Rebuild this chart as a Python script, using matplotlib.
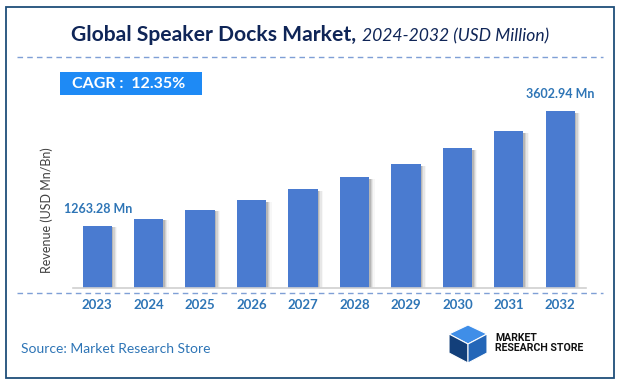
import matplotlib
matplotlib.use("Agg")
import matplotlib.pyplot as plt
from matplotlib.patches import Rectangle, Polygon

years = ["2023", "2024", "2025", "2026", "2027", "2028", "2029", "2030", "2031", "2032"]
revenue = [1263.28, 1402, 1585, 1780, 2003, 2256, 2520, 2845, 3196, 3602.94]
first_label = "1263.28 Mn"
last_label = "3602.94 Mn"
cagr_text = "CAGR :  12.35%"

W, H = 623, 389
BAR = "#4a7bd0"
LABEL = "#2e75b6"
FONT = ["Lato", "DejaVu Sans"]
plt.rcParams["font.family"] = FONT

fig = plt.figure(figsize=(W / 100, H / 100), dpi=100)


def fx(x):
    return x / W


def fy(y):
    return 1 - y / H


# ── frame, dashed rules, CAGR box ────────────────────────────────────────
fig.patches.append(Rectangle((fx(6), fy(378)), fx(614) - fx(6), fy(7) - fy(378),
                             transform=fig.transFigure, fill=False,
                             edgecolor="#1f4e79", linewidth=1.3))
for yy in (57, 293):
    fig.add_artist(plt.Line2D([fx(17), fx(603)], [fy(yy), fy(yy)],
                              transform=fig.transFigure, color="#7f9fd6",
                              linewidth=1.0, linestyle=(0, (4, 3))))
fig.patches.append(Rectangle((fx(60), fy(95)), fx(202) - fx(60), fy(72) - fy(95),
                             transform=fig.transFigure, facecolor="#1e8af5",
                             edgecolor="none"))
fig.text(fx(72), fy(84), cagr_text, color="white", fontsize=11.5,
         fontweight="bold", va="center", ha="left")

# ── title (bold part, then italic part right after it) ──────────────────
t1 = fig.text(fx(71), fy(35), "Global Speaker Docks Market,", color="#0f2557",
              fontsize=15.2, fontweight="bold", va="center", ha="left")
fig.canvas.draw()
right = t1.get_window_extent(renderer=fig.canvas.get_renderer()).x1
fig.text(fx(right + 6), fy(36), "2024-2032 (USD Million)", color="#0f2557",
         fontsize=12.6, style="italic", va="center", ha="left")

# ── bars ─────────────────────────────────────────────────────────────────
ax = fig.add_axes([fx(73), fy(288), fx(586) - fx(73), fy(100) - fy(288)])
x = list(range(len(years)))
bw = 0.57
# soft shadow on the right of each bar
for k, a in enumerate([0.30, 0.20, 0.12, 0.06]):
    off = 0.03 + k * 0.025
    ax.bar([i + off for i in x], [v * 0.985 for v in revenue], width=bw,
           color="#7a7a7a", alpha=a, linewidth=0, zorder=1)
ax.bar(x, revenue, width=bw, color=BAR, linewidth=0, zorder=2)
ax.set_xlim(-0.47, 9.5)
ax.set_ylim(0, 3820)
for s in ("top", "right", "left"):
    ax.spines[s].set_visible(False)
ax.spines["bottom"].set_color("#d0d0d0")
ax.spines["bottom"].set_linewidth(1.2)
ax.set_yticks([])
ax.set_xticks(x)
ax.set_xticklabels(years, color=LABEL, fontsize=9.5, fontweight="bold")
ax.tick_params(axis="x", length=0, pad=8)
ax.set_facecolor("none")

ax.annotate(first_label, (x[0], revenue[0]), xytext=(1, 8),
            textcoords="offset points", ha="center", va="bottom",
            color=LABEL, fontsize=9, fontweight="bold")
ax.annotate(last_label, (x[-1], revenue[-1]), xytext=(0, 8),
            textcoords="offset points", ha="center", va="bottom",
            color=LABEL, fontsize=9, fontweight="bold")

fig.text(fx(47), fy(210), "Revenue (USD Mn/Bn)", rotation=90, color="#404040",
         fontsize=9, va="center", ha="center")

# ── footer ───────────────────────────────────────────────────────────────
fig.text(fx(21), fy(349), "Source: Market Research Store", color=LABEL,
         fontsize=10, va="center", ha="left")

# simple cube logo
cx, cy = 468, 344
faces = [
    ([(cx - 19, cy - 10), (cx, cy - 19), (cx + 19, cy - 10), (cx, cy)], "#3f8ee8"),
    ([(cx - 19, cy - 10), (cx, cy), (cx, cy + 19), (cx - 19, cy + 9)], "#123f7a"),
    ([(cx, cy), (cx + 19, cy - 10), (cx + 19, cy + 9), (cx, cy + 19)], "#2366b8"),
]
for pts, col in faces:
    fig.patches.append(Polygon([(fx(a), fy(b)) for a, b in pts], closed=True,
                               transform=fig.transFigure, facecolor=col,
                               edgecolor="white", linewidth=0.8))
fig.text(fx(495), fy(343), "MARKET\nRESEARCH STORE", color="#111111",
         fontsize=7.6, fontweight="bold", va="center", ha="left",
         linespacing=0.95, family=["Roboto", "DejaVu Sans"])

fig.savefig("out.png", dpi=100)
